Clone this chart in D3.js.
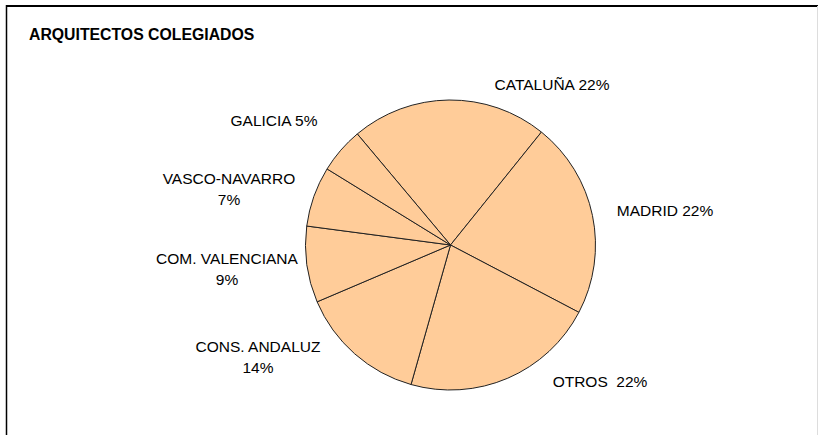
<!DOCTYPE html>
<html>
<head>
<meta charset="utf-8">
<script src="https://cdn.jsdelivr.net/npm/d3@7"></script>
<style>
  body { margin: 0; background: #fff; }
  text { font-family: "Liberation Sans", Arial, sans-serif; fill: #000; }
</style>
</head>
<body>
<div id="chart"></div>
<script>
'use strict';

// data (share of each slice, in %)
const regions = ['CATALUÑA', 'MADRID', 'OTROS', 'CONS. ANDALUZ', 'COM. VALENCIANA', 'VASCO-NAVARRO', 'GALICIA'];
const shares = [21.9, 21.9, 21.7, 14.2, 8.5, 6.7, 5.1];
// label pieces: [text before %, whether % goes on second line]
const labelSep = [' ', ' ', '  ', '\n', '\n', '\n', ' '];

const width = 818;
const height = 435;
const cx = 450.5, cy = 245, radius = 145;

// where Excel left each label (centre x, baseline y)
const labelPos = [
    [552, 90], [665, 216], [600, 387], [258, 352], [227, 264], [229, 184], [274, 126]
];

const svg = d3.select('#chart')
    .append('svg')
    .attr('width', width)
    .attr('height', height);

// frame
svg.append('line').attr('x1', 6).attr('y1', 6).attr('x2', 818).attr('y2', 6)
    .attr('stroke', '#000').attr('stroke-width', 2);
svg.append('line').attr('x1', 6.5).attr('y1', 5).attr('x2', 6.5).attr('y2', 435)
    .attr('stroke', '#000').attr('stroke-width', 1.5);
svg.append('line').attr('x1', 817.5).attr('y1', 6).attr('x2', 817.5).attr('y2', 435)
    .attr('stroke', '#ddd').attr('stroke-width', 1);

svg.append('text')
    .attr('x', 29)
    .attr('y', 40)
    .style('font-size', '15.8px')
    .style('font-weight', 'bold')
    .text('ARQUITECTOS COLEGIADOS');

const total = d3.sum(shares);
const pie = d3.pie()
    .sort(null)
    .startAngle(-40 * Math.PI / 180)
    .endAngle(320 * Math.PI / 180);

const arc = d3.arc()
    .innerRadius(0)
    .outerRadius(radius);

const g = svg.append('g')
    .attr('transform', `translate(${cx},${cy})`);

g.selectAll('.slice')
    .data(pie(shares))
    .enter()
    .append('path')
    .attr('class', 'slice')
    .attr('d', arc)
    .style('fill', '#ffcc99')
    .style('stroke', '#222')
    .style('stroke-width', 1);

const labels = svg.selectAll('.label')
    .data(regions)
    .enter()
    .append('text')
    .attr('class', 'label')
    .attr('text-anchor', 'middle')
    .attr('xml:space', 'preserve')
    .style('font-size', '15.5px')
    .style('white-space', 'pre');

labels.each(function (d, i) {
    const pct = Math.round(shares[i] / total * 100) + '%';
    const t = d3.select(this);
    const [x, y] = labelPos[i];
    if (labelSep[i] === '\n') {
        t.append('tspan').attr('x', x).attr('y', y).text(d);
        t.append('tspan').attr('x', x).attr('y', y + 21).text(pct);
    } else {
        t.append('tspan').attr('x', x).attr('y', y).text(d + labelSep[i] + pct);
    }
});
</script>
</body>
</html>
